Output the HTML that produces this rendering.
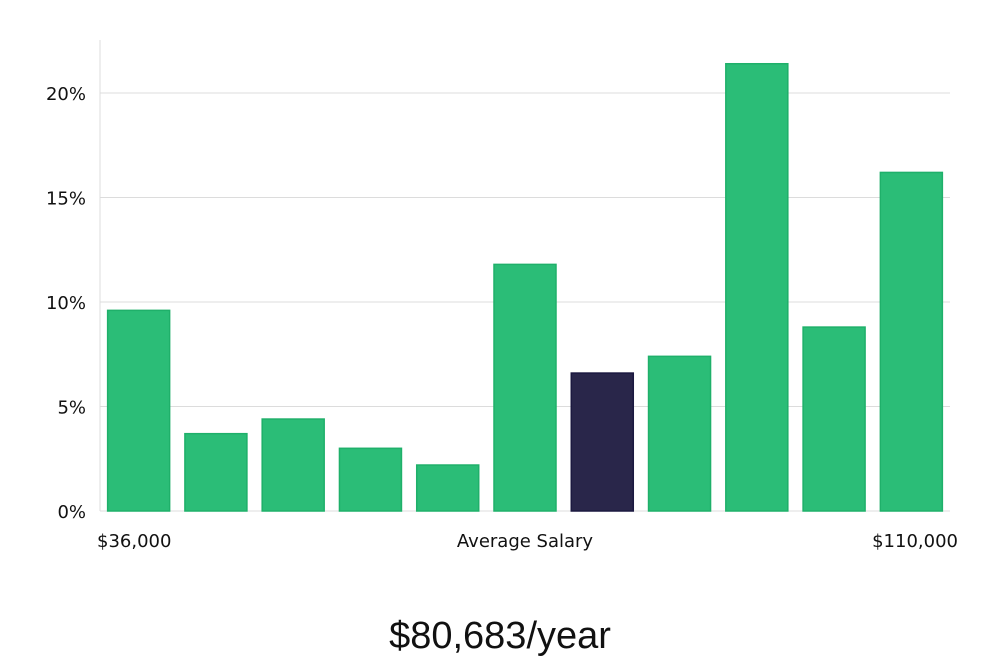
<!DOCTYPE html>
<html><head><meta charset="utf-8">
<style>
html,body{margin:0;padding:0;background:#fff;}
body{width:1000px;height:660px;overflow:hidden;font-family:"DejaVu Sans","Liberation Sans",sans-serif;}
</style></head>
<body>
<svg width="1000" height="660" viewBox="0 0 1000 660">
<g id="grid"></g>
<g id="bars"></g>
<g id="yticks"></g>
<text x="97" y="547" font-size="18" fill="#111">$36,000</text>
<text x="525" y="547" font-size="18" fill="#111" text-anchor="middle">Average Salary</text>
<text x="958" y="547" font-size="18" fill="#111" text-anchor="end">$110,000</text>
<text x="500" y="648" font-size="38" fill="#111" text-anchor="middle" font-family="Liberation Sans Narrow, Liberation Sans, sans-serif">$80,683/year</text>
</svg>
<script>
const values = [9.6, 3.7, 4.4, 3.0, 2.2, 11.8, 6.6, 7.4, 21.4, 8.8, 16.2];
const highlightIndex = 6;
const yTicks = [0, 5, 10, 15, 20];
const yTickLabels = ["0%", "5%", "10%", "15%", "20%"];

const NS = "http://www.w3.org/2000/svg";
const x0 = 100, x1 = 950, yBase = 511, pxPerPct = (511 - 93) / 20;
const y = v => yBase - v * pxPerPct;
const band = (x1 - x0) / values.length;
const xb = i => x0 + i * band;

const grid = document.getElementById('grid');
const ax = document.createElementNS(NS, 'line');
ax.setAttribute('x1', x0); ax.setAttribute('x2', x0); ax.setAttribute('y1', 40); ax.setAttribute('y2', yBase);
ax.setAttribute('stroke', '#ddd');


grid.appendChild(ax);

const yt = document.getElementById('yticks');
yTicks.forEach((t, i) => {
  const l = document.createElementNS(NS, 'line');
  l.setAttribute('x1', x0); l.setAttribute('x2', x1);
  l.setAttribute('y1', y(t)); l.setAttribute('y2', y(t));
  l.setAttribute('stroke', '#dcdcdc');
  
  
  grid.appendChild(l);
  const tx = document.createElementNS(NS, 'text');
  tx.setAttribute('x', 86); tx.setAttribute('y', y(t) + 7);
  tx.setAttribute('text-anchor', 'end'); tx.setAttribute('font-size', '18'); tx.setAttribute('fill', '#111');
  tx.textContent = yTickLabels[i];
  
  
  yt.appendChild(tx);
});

const bars = document.getElementById('bars');
values.forEach((v, i) => {
  const r = document.createElementNS(NS, 'rect');
  const w = 62;
  r.setAttribute('x', xb(i) + (band - w) / 2);
  r.setAttribute('y', y(v));
  r.setAttribute('width', w);
  r.setAttribute('height', yBase - y(v));
  const hi = i === highlightIndex;
  r.setAttribute('fill', hi ? '#29264a' : '#2bbd77');
  r.setAttribute('stroke', hi ? '#1b1840' : '#1fb06a');
  r.setAttribute('stroke-width', '1.5');
  
  
  bars.appendChild(r);
});
</script>
</body></html>
